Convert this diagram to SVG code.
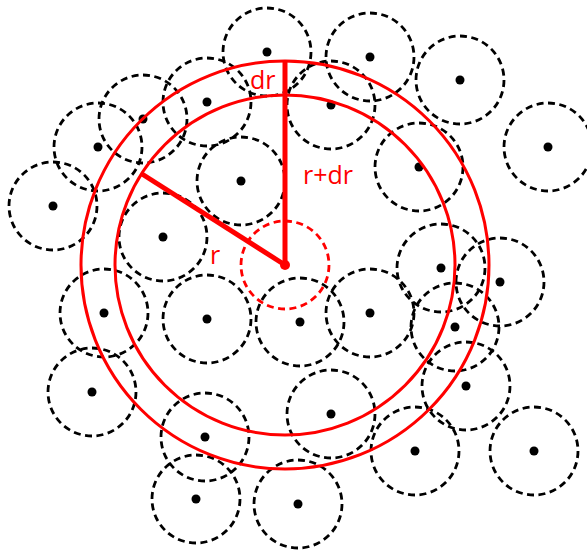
<svg xmlns="http://www.w3.org/2000/svg" width="587" height="551" viewBox="0 0 587 551">
<style>
.p circle.c{fill:none;stroke:#000;stroke-width:2.8;stroke-dasharray:7 4.5}
.p circle.d{fill:#000;stroke:none}
.red{fill:none;stroke:#f00;stroke-width:3}
.rd{fill:none;stroke:#f00;stroke-width:2.8;stroke-dasharray:7 4.5}
.rl{stroke:#f00;stroke-width:5;stroke-linecap:butt}
text{font-family:"Open Sans","DejaVu Sans",sans-serif;font-size:25px;fill:#f00}
</style>
<rect width="587" height="551" fill="#fff"/>
<g id="particles" class="p">
<g id="n1" transform="translate(267,52)"><circle class="c" r="44"/><circle class="d" r="4.5"/></g>
<g id="n2" transform="translate(370,57)"><circle class="c" r="44"/><circle class="d" r="4.5"/></g>
<g id="n3" transform="translate(460,80)"><circle class="c" r="44"/><circle class="d" r="4.5"/></g>
<g id="n4" transform="translate(207,102)"><circle class="c" r="44"/><circle class="d" r="4.5"/></g>
<g id="n5" transform="translate(331,105)"><circle class="c" r="44"/><circle class="d" r="4.5"/></g>
<g id="n6" transform="translate(143,119)"><circle class="c" r="44"/><circle class="d" r="4.5"/></g>
<g id="n7" transform="translate(98,147)"><circle class="c" r="44"/><circle class="d" r="4.5"/></g>
<g id="n8" transform="translate(548,147)"><circle class="c" r="44"/><circle class="d" r="4.5"/></g>
<g id="n9" transform="translate(419,167)"><circle class="c" r="44"/><circle class="d" r="4.5"/></g>
<g id="n10" transform="translate(241,181)"><circle class="c" r="44"/><circle class="d" r="4.5"/></g>
<g id="n11" transform="translate(53,206)"><circle class="c" r="44"/><circle class="d" r="4.5"/></g>
<g id="n12" transform="translate(163,237)"><circle class="c" r="44"/><circle class="d" r="4.5"/></g>
<g id="n13" transform="translate(441,268)"><circle class="c" r="44"/><circle class="d" r="4.5"/></g>
<g id="n14" transform="translate(500,282)"><circle class="c" r="44"/><circle class="d" r="4.5"/></g>
<g id="n15" transform="translate(104,313)"><circle class="c" r="44"/><circle class="d" r="4.5"/></g>
<g id="n16" transform="translate(207,319)"><circle class="c" r="44"/><circle class="d" r="4.5"/></g>
<g id="n17" transform="translate(300,322)"><circle class="c" r="44"/><circle class="d" r="4.5"/></g>
<g id="n18" transform="translate(370,313)"><circle class="c" r="44"/><circle class="d" r="4.5"/></g>
<g id="n19" transform="translate(455,327)"><circle class="c" r="44"/><circle class="d" r="4.5"/></g>
<g id="n20" transform="translate(466,386)"><circle class="c" r="44"/><circle class="d" r="4.5"/></g>
<g id="n21" transform="translate(92,392)"><circle class="c" r="44"/><circle class="d" r="4.5"/></g>
<g id="n22" transform="translate(331,414)"><circle class="c" r="44"/><circle class="d" r="4.5"/></g>
<g id="n23" transform="translate(205,437)"><circle class="c" r="44"/><circle class="d" r="4.5"/></g>
<g id="n24" transform="translate(415,451)"><circle class="c" r="44"/><circle class="d" r="4.5"/></g>
<g id="n25" transform="translate(534,451)"><circle class="c" r="44"/><circle class="d" r="4.5"/></g>
<g id="n26" transform="translate(196,499)"><circle class="c" r="44"/><circle class="d" r="4.5"/></g>
<g id="n27" transform="translate(298,504)"><circle class="c" r="44"/><circle class="d" r="4.5"/></g>
</g>
<g id="shells">
<circle class="red" cx="285" cy="265" r="204"/>
<circle class="red" cx="285" cy="265" r="170"/>
<circle class="rd" cx="285" cy="265" r="44"/>
</g>
<g id="connectors">
<line class="rl" x1="285" y1="265" x2="285" y2="61"/>
<line class="rl" x1="285" y1="265" x2="142" y2="174"/>
<circle cx="285" cy="265" r="5" fill="#f00"/>
</g>
<g id="labels">
<text x="250" y="89">dr</text>
<text x="303" y="184">r+dr</text>
<text x="210" y="264">r</text>
</g>
</svg>
